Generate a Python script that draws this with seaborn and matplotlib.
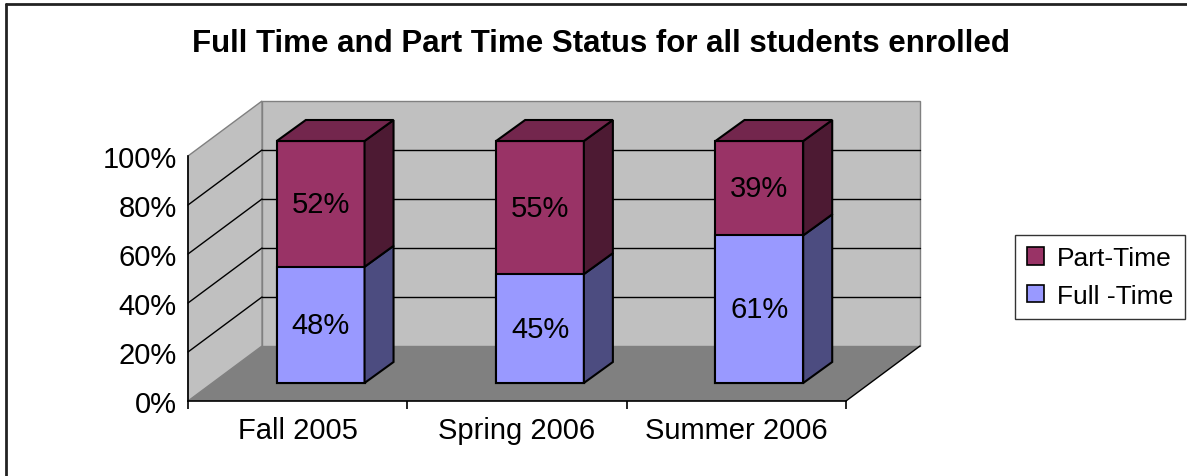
import numpy as np
import pandas as pd
import seaborn as sns
import matplotlib.pyplot as plt
from matplotlib.patches import Polygon
from matplotlib.lines import Line2D

# data
terms = ["Fall 2005", "Spring 2006", "Summer 2006"]
full_time = [0.48, 0.45, 0.61]
part_time = [0.52, 0.55, 0.39]
y_ticks = [0, 0.2, 0.4, 0.6, 0.8, 1.0]

c_part, c_part_side, c_part_top = "#993366", "#4D1A33", "#73264D"
c_full, c_full_side = "#9999FF", "#4C4C80"

sns.set_theme(style="white")
plt.rcParams['font.family'] = ['Liberation Sans', 'DejaVu Sans']
plt.rcParams.update({"text.color": "black", "xtick.color": "black", "ytick.color": "black",
                     "axes.labelcolor": "black"})

W, H = 1187, 477
FS = 21
fig = plt.figure(figsize=(W / 100, H / 100), dpi=100)

# front plane of the 3D box (pixels: x 188..846, 0% at y=402, 100% at y=157)
rect = [188 / W, (H - 402) / H, 658 / W, 245 / H]
ax = fig.add_axes(rect)
ax.set_xlim(-0.5, 2.5)
ax.set_ylim(0, 1)

DX, DY = 74 / 219.3, 55 / 245  # wall depth in data units
x0, x1 = -0.5, 2.5

back = Polygon([(x0 + DX, DY), (x1 + DX, DY), (x1 + DX, 1 + DY), (x0 + DX, 1 + DY)],
               closed=True, facecolor="#C0C0C0", edgecolor="#808080", lw=1, clip_on=False, zorder=1)
left = Polygon([(x0, 0), (x0 + DX, DY), (x0 + DX, 1 + DY), (x0, 1)],
               closed=True, facecolor="#C0C0C0", edgecolor="#808080", lw=1, clip_on=False, zorder=1)
floor = Polygon([(x0, 0), (x1, 0), (x1 + DX, DY), (x0 + DX, DY)],
                closed=True, facecolor="#808080", edgecolor="none", clip_on=False, zorder=1)
for p in (back, left, floor):
    ax.add_patch(p)

for v in y_ticks[1:-1]:
    ax.plot([x0 + DX, x1 + DX], [v + DY, v + DY], color="black", lw=1, clip_on=False, zorder=2)
    ax.plot([x0, x0 + DX], [v, v + DY], color="black", lw=1, clip_on=False, zorder=2)
ax.plot([x1, x1 + DX], [0, DY], color="black", lw=1, clip_on=False, zorder=2)

for s in ["top", "right"]:
    ax.spines[s].set_visible(False)
for s in ["left", "bottom"]:
    ax.spines[s].set_color("black")
    ax.spines[s].set_linewidth(1.2)
ax.patch.set_alpha(0)

ax.set_yticks(y_ticks)
ax.set_yticklabels([f"{int(round(v * 100))}%" for v in y_ticks], fontsize=FS)
ax.set_xticks(range(len(terms)))
ax.set_xticklabels(terms, fontsize=FS)
ax.set_xticks([-0.5, 0.5, 1.5, 2.5], minor=True)
ax.tick_params(axis="y", which="major", direction="out", length=6, width=1.2, color="black", pad=2)
ax.tick_params(axis="x", which="major", length=0, pad=11)
ax.tick_params(axis="x", which="minor", direction="out", length=6, width=1.2, color="black", bottom=True)

# bars on an overlay axes aligned with the bar front plane
BFX, BFY = 23 / 219.3, 18 / 245   # bar front offset inside the box
SC = 242 / 245                     # bar height scale
ax_bar = fig.add_axes(rect)
df = pd.DataFrame({"term": terms, "full": full_time,
                   "total": np.array(full_time) + np.array(part_time)})
sns.barplot(data=df, x="term", y="total", color=c_part, saturation=1, width=0.4,
            edgecolor="black", linewidth=1.5, ax=ax_bar, zorder=3)
sns.barplot(data=df, x="term", y="full", color=c_full, saturation=1, width=0.4,
            edgecolor="black", linewidth=1.5, ax=ax_bar, zorder=3)
ax_bar.set_xlim(-0.5 - BFX, 2.5 - BFX)
ax_bar.set_ylim(-BFY / SC, (1 - BFY) / SC)
ax_bar.axis("off")
ax_bar.patch.set_alpha(0)
for p in ax_bar.patches:
    p.set_clip_on(False)

bdx, bdy = 29 / 219.3, 21 / 242
bw = 0.4
for i in range(len(terms)):
    xl, xr = i - bw / 2, i + bw / 2
    f, t = full_time[i], full_time[i] + part_time[i]
    segs = [(0, f, c_full_side), (f, t, c_part_side)]
    for lo, hi, col in segs:
        ax_bar.add_patch(Polygon([(xr, lo), (xr + bdx, lo + bdy), (xr + bdx, hi + bdy), (xr, hi)],
                                 closed=True, facecolor=col, edgecolor="black", lw=1.5,
                                 zorder=4, clip_on=False))
    ax_bar.add_patch(Polygon([(xl, t), (xr, t), (xr + bdx, t + bdy), (xl + bdx, t + bdy)],
                             closed=True, facecolor=c_part_top, edgecolor="black", lw=1.5,
                             zorder=4, clip_on=False))
    ax_bar.text(i, f / 2, f"{int(round(full_time[i] * 100))}%", ha="center", va="center",
                fontsize=FS, color="black", zorder=5)
    ax_bar.text(i, f + part_time[i] / 2, f"{int(round(part_time[i] * 100))}%", ha="center",
                va="center", fontsize=FS, color="black", zorder=5)

fig.text(601 / W, 1 - 44 / H, "Full Time and Part Time Status for all students enrolled",
         ha="center", va="center", fontsize=22.5, fontweight="bold")

handles = [Polygon([(0, 0)], facecolor=c_part, edgecolor="black", lw=1.2),
           Polygon([(0, 0)], facecolor=c_full, edgecolor="black", lw=1.2)]
leg = fig.legend(handles, ["Part-Time", "Full -Time"], loc="center",
                 bbox_to_anchor=(1100 / W, 1 - 278 / H), fontsize=FS - 2, frameon=True,
                 fancybox=False, edgecolor="black", handlelength=0.65, handleheight=0.65,
                 handletextpad=0.5, labelspacing=0.5, borderpad=0.45, borderaxespad=0)
leg.get_frame().set_linewidth(1.0)

# outer chart border (top and left visible)
fig.add_artist(Line2D([6 / W, 1], [1 - 5 / H, 1 - 5 / H], color="#222222", lw=2, transform=fig.transFigure))
fig.add_artist(Line2D([6 / W, 6 / W], [0, 1 - 5 / H], color="#222222", lw=2, transform=fig.transFigure))

fig.savefig("out.png", dpi=100)
